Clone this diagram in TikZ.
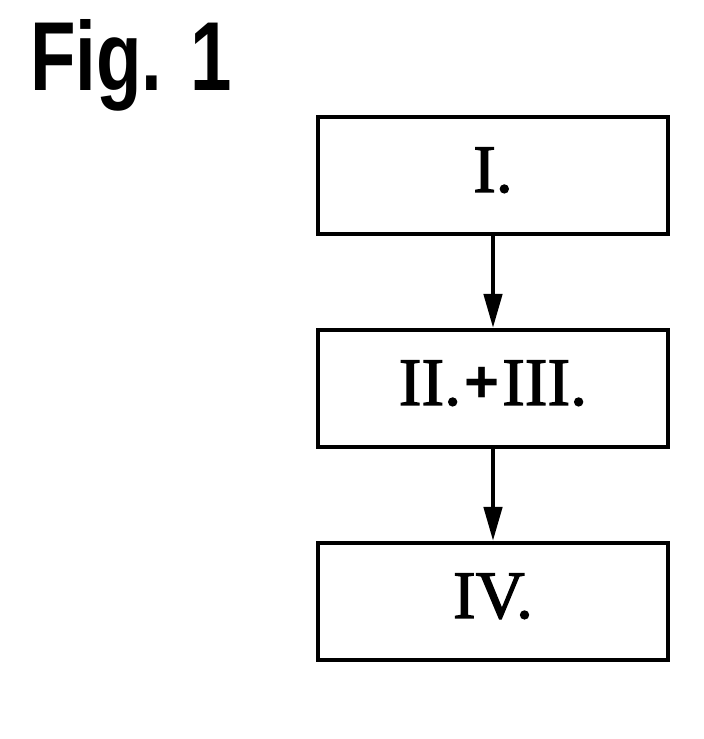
\documentclass[tikz,border=0pt]{standalone}
\usepackage{fontspec}
\setmainfont{Liberation Serif}[BoldFont=Liberation Serif, BoldFeatures={FakeBold=1.8}]
\newfontfamily\figfont{Liberation Sans}
\usetikzlibrary{arrows.meta, positioning}

\newcommand{\plussign}{\hspace{3pt}{\figfont\bfseries\fontsize{60}{60}\selectfont\raisebox{2pt}{+}}\hspace{3pt}}

\begin{document}
\begin{tikzpicture}[
    x=1pt, y=1pt,
    node distance=92pt,
    % Styles
    stepbox/.style={draw, rectangle, line width=4pt, minimum width=350pt, minimum height=117pt, inner sep=0pt,
        text height=45pt, text depth=12pt, font=\fontsize{68}{68}\selectfont\bfseries},
    wire/.style={-{Triangle[length=34pt, width=18pt]}, line width=4.5pt},
    title_text/.style={anchor=base west, inner sep=0pt, font=\figfont\bfseries\fontsize{98}{98}\selectfont}
]
    \useasboundingbox (0,0) rectangle (704,739);

    % --- TITLE ---
    \node[title_text] (fig) at (30,648) {\scalebox{0.76}[1]{Fig. 1}};

    % --- STEPS ---
    \node[stepbox] (S1) at (493,563.5) {I.};
    \node[stepbox, below=of S1] (S23) {II.\plussign III.};
    \node[stepbox, below=of S23] (S4) {IV.};

    % --- CONNECTIONS ---
    \draw[wire] (S1) -- (S23);
    \draw[wire] (S23) -- (S4);

\end{tikzpicture}
\end{document}
